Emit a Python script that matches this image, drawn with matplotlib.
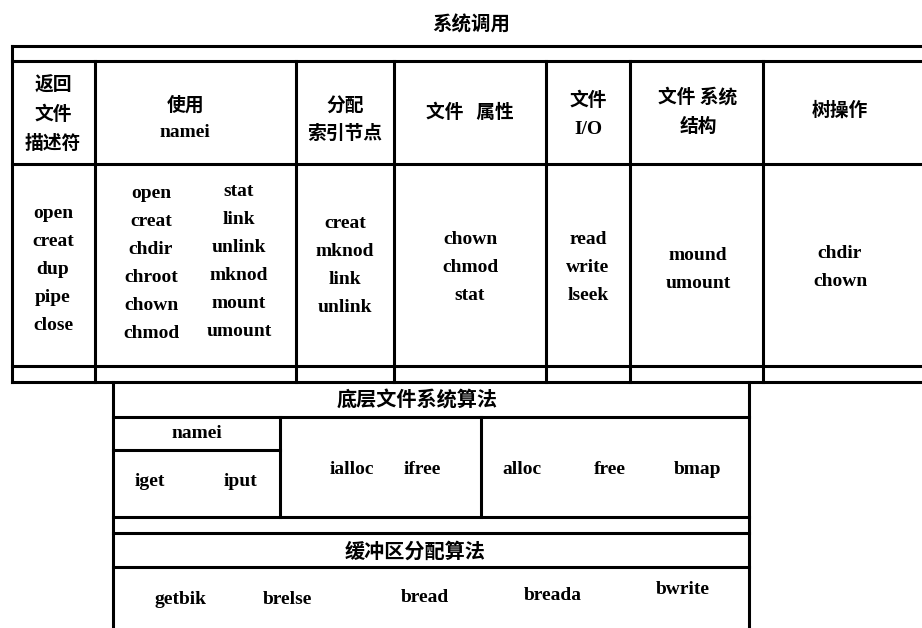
import matplotlib
matplotlib.use("Agg")
import matplotlib.pyplot as plt

# ---------------- data ----------------
title = "系统调用"
header_labels = [
    ["返回", "文件", "描述符"],
    ["使用", "namei"],
    ["分配", "索引节点"],
    ["文件   属性"],
    ["文件", "I/O"],
    ["文件 系统", "结构"],
    ["树操作"],
]
col_calls = [
    ["open", "creat", "dup", "pipe", "close"],
    None,  # two-column cell (below)
    ["creat", "mknod", "link", "unlink"],
    ["chown", "chmod", "stat"],
    ["read", "write", "lseek"],
    ["mound", "umount"],
    ["chdir", "chown"],
]
namei_left = ["open", "creat", "chdir", "chroot", "chown", "chmod"]
namei_right = ["stat", "link", "unlink", "mknod", "mount", "umount"]

fs_title = "底层文件系统算法"
fs_namei = "namei"
fs_namei_calls = ["iget", "iput"]
fs_inode_calls = ["ialloc", "ifree"]
fs_block_calls = ["alloc", "free", "bmap"]
buf_title = "缓冲区分配算法"
buf_calls = ["getbik", "brelse", "bread", "breada", "bwrite"]

# ---------------- layout (pixel coords) ----------------
W, H = 922, 628
fig = plt.figure(figsize=(W / 100, H / 100), dpi=100)
ax = fig.add_axes([0, 0, 1, 1])
ax.set_xlim(0, W)
ax.set_ylim(H, 0)
ax.axis("off")

LW = 2.2
CJK = ["Noto Sans CJK SC", "DejaVu Sans"]
LAT = ["Liberation Serif", "DejaVu Serif"]
CJK_SIZE = 13.5
LAT_SIZE = 14


def hline(y, x0, x1, lw=LW):
    ax.plot([x0, x1], [y, y], color="black", lw=lw, solid_capstyle="projecting")


def vline(x, y0, y1, lw=LW):
    ax.plot([x, x], [y0, y1], color="black", lw=lw, solid_capstyle="projecting")


def is_cjk(s):
    return any(ord(c) > 0x2E80 for c in s)


def put(x, y, s, size=None):
    if is_cjk(s):
        ax.text(x, y, s, family=CJK, fontsize=size or CJK_SIZE, fontweight="bold",
                ha="center", va="center")
    else:
        ax.text(x, y, s, family=LAT, fontsize=size or LAT_SIZE, fontweight="bold",
                ha="center", va="center")


def stack(x, yc, lines, step):
    n = len(lines)
    for j, s in enumerate(lines):
        put(x, yc + (j - (n - 1) / 2) * step, s)


# title
put(471, 25, title, 14)

# upper table
X_LEFT, X_RIGHT = 12, 925
cols = [X_LEFT, 95, 296, 394, 546, 630, 763, X_RIGHT]
Y_TOP, Y_TOP2, Y_HEAD, Y_BODY, Y_BOT = 46, 61, 164, 366, 382
for y in (Y_TOP, Y_TOP2, Y_HEAD, Y_BODY, Y_BOT):
    hline(y, X_LEFT, X_RIGHT)
vline(X_LEFT, Y_TOP, Y_BOT)
for x in cols[1:-1]:
    vline(x, Y_TOP2, Y_BOT)

centers = [53, 185, 345, 470, 588, 698, 840]
head_y = [114, 119, 119, 112, 115, 112, 110]
head_step = [29, 27, 28, 0, 30, 29, 0]
body_y = [270, None, 266, 267, 267, 270, 268]
body_step = 28

for i, lines in enumerate(header_labels):
    stack(centers[i], head_y[i], lines, head_step[i])

for i, lines in enumerate(col_calls):
    if lines is None:
        continue
    stack(centers[i], body_y[i], lines, body_step)

stack(151, 263, namei_left, 28)
stack(239, 262, namei_right, 28)

# lower box
LX0, LX1 = 113, 749
vline(LX0, Y_BOT, H + 5)
vline(LX1, Y_BOT, H + 5)
for y in (417, 517, 533, 567):
    hline(y, LX0, LX1)
hline(450, LX0, 280)
vline(280, 417, 517)
vline(481, 417, 517)

put(417, 400, fs_title, 14.5)
put(197, 434, fs_namei)
for x, s in zip([150, 240], fs_namei_calls):
    put(x, 482, s)
for x, s in zip([352, 422], fs_inode_calls):
    put(x, 470, s)
for x, s in zip([522, 610, 698], fs_block_calls):
    put(x, 470, s)

put(415, 551, buf_title, 14.5)
for x, y, s in zip([180, 287, 425, 553, 683], [600, 600, 597, 595, 590], buf_calls):
    put(x, y, s)

fig.savefig("out.png", dpi=100)
